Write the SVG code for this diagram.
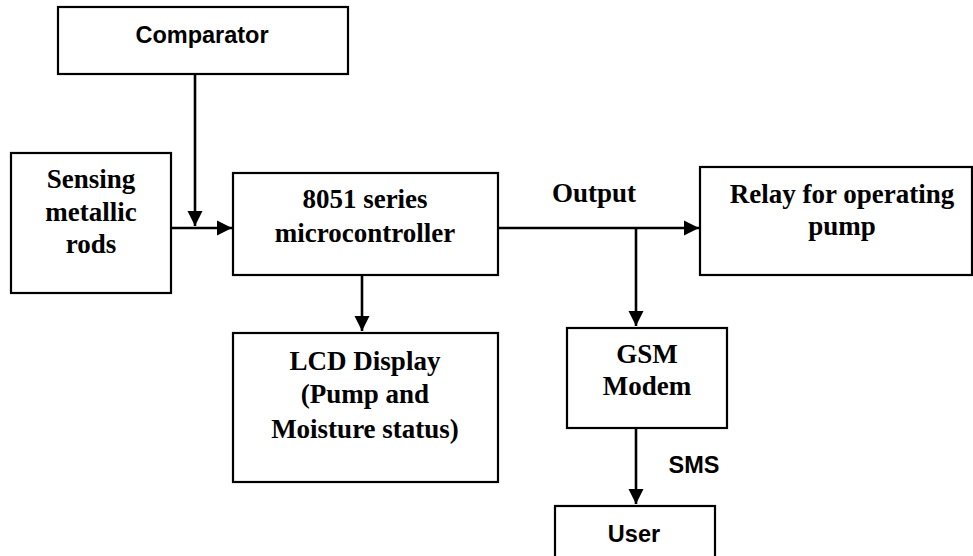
<svg xmlns="http://www.w3.org/2000/svg" width="973" height="556" viewBox="0 0 973 556">
<defs>
<marker id="ah" viewBox="0 0 10 10" refX="10" refY="5" markerWidth="5.8" markerHeight="6" markerUnits="strokeWidth" orient="auto">
<path d="M0,0 L10,5 L0,10 z" fill="#000"/>
</marker>
<style>
.box{fill:#fff;stroke:#000;stroke-width:2.2}
.ser{font-family:"Liberation Serif","Times New Roman",serif;font-weight:bold;font-size:27px;fill:#000;text-anchor:middle}
.san{font-family:"Liberation Sans",Arial,sans-serif;font-weight:bold;font-size:23.5px;fill:#000;text-anchor:middle}
.con{fill:none;stroke:#000;stroke-width:2.6}
</style>
</defs>
<rect width="973" height="556" fill="#fff"/>
<g id="comparator">
<rect class="box" x="58" y="7" width="290" height="67"/>
<text class="san" x="202" y="43">Comparator</text>
</g>
<g id="sensing">
<rect class="box" x="11" y="153" width="160" height="140"/>
<text class="ser" x="91" y="188">Sensing</text>
<text class="ser" x="91" y="221">metallic</text>
<text class="ser" x="91" y="253">rods</text>
</g>
<g id="mcu">
<rect class="box" x="233" y="173" width="265" height="102"/>
<text class="ser" x="365" y="208">8051 series</text>
<text class="ser" x="365" y="242">microcontroller</text>
</g>
<g id="lcd">
<rect class="box" x="233" y="333" width="265" height="149"/>
<text class="ser" x="365" y="370">LCD Display</text>
<text class="ser" x="365" y="403">(Pump and</text>
<text class="ser" x="365" y="438">Moisture status)</text>
</g>
<g id="relay">
<rect class="box" x="700" y="167" width="272" height="108"/>
<text class="ser" x="842" y="203">Relay for operating</text>
<text class="ser" x="842" y="235">pump</text>
</g>
<g id="gsm">
<rect class="box" x="567" y="328" width="160" height="100"/>
<text class="ser" x="647" y="363">GSM</text>
<text class="ser" x="647" y="395">Modem</text>
</g>
<g id="user">
<rect class="box" x="555" y="506" width="160" height="60"/>
<text class="san" x="634" y="542">User</text>
</g>
<g id="connectors">
<path class="con" d="M195,74 V226" marker-end="url(#ah)"/>
<path class="con" d="M171,228 H232" marker-end="url(#ah)"/>
<path class="con" d="M362,275 V331" marker-end="url(#ah)"/>
<path class="con" d="M498,228 H699" marker-end="url(#ah)"/>
<path class="con" d="M636,228 V326" marker-end="url(#ah)"/>
<path class="con" d="M636,428 V504" marker-end="url(#ah)"/>
<text class="ser" x="594" y="202">Output</text>
<text class="san" x="694" y="473">SMS</text>
</g>
</svg>
